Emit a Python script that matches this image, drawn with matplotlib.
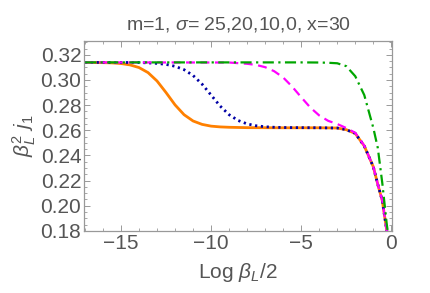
import matplotlib
matplotlib.use('Agg')
import matplotlib.pyplot as plt
from matplotlib.ticker import MultipleLocator

plt.rcParams['font.family'] = ['Liberation Sans', 'DejaVu Sans']
plt.rcParams['mathtext.fontset'] = 'custom'
plt.rcParams['mathtext.rm'] = 'Liberation Sans'
plt.rcParams['mathtext.it'] = 'Liberation Sans:italic'

# ---------------- data ----------------
# sigma = 25 (orange, solid)
x_orange = [-17, -16, -15.5, -15, -14.5, -14, -13.5, -13, -12.5, -12, -11.5, -11, -10.5, -10,
            -9.5, -9, -8, -6, -4, -3, -2.5, -2, -1.5, -1, -0.75, -0.5, -0.25, 0]
y_orange = [0.3140, 0.3138, 0.3136, 0.3131, 0.3120, 0.3099, 0.3059, 0.2992, 0.2900, 0.2802,
            0.2724, 0.2674, 0.2647, 0.2633, 0.2627, 0.2624, 0.2621, 0.2620, 0.2620, 0.2618,
            0.2605, 0.2575, 0.2475, 0.2310, 0.2170, 0.2040, 0.1800, 0.1650]

# sigma = 20 (blue, dotted)
x_blue = [-17, -14, -13.5, -13, -12.5, -12, -11.5, -11, -10.5, -10, -9.5, -9, -8.5, -8,
          -7.5, -7, -6.5, -6, -4, -3, -2.5, -2, -1.5, -1, -0.75, -0.5, -0.25, 0]
y_blue = [0.3140, 0.3139, 0.3136, 0.3132, 0.3124, 0.3109, 0.3082, 0.3036, 0.2967, 0.2880,
          0.2793, 0.2724, 0.2678, 0.2651, 0.2636, 0.2628, 0.2624, 0.2622, 0.2620, 0.2618,
          0.2605, 0.2575, 0.2475, 0.2310, 0.2170, 0.2040, 0.1800, 0.1650]

# sigma = 10 (magenta, dashed)
x_magenta = [-17, -9, -8, -7.5, -7, -6.5, -6, -5.5, -5, -4.5, -4, -3.5, -3, -2.5, -2, -1.5,
             -1, -0.75, -0.5, -0.25, 0]
y_magenta = [0.3140, 0.3139, 0.3129, 0.3120, 0.3102, 0.3070, 0.3020, 0.2947, 0.2863, 0.2782,
             0.2718, 0.2675, 0.2650, 0.2618, 0.2580, 0.2478, 0.2310, 0.2170, 0.2040, 0.1800,
             0.1650]

# sigma = 0 (green, dash-dot)
x_green = [-17, -5, -4, -3.5, -3, -2.5, -2, -1.5, -1, -0.75, -0.5, -0.25, 0]
y_green = [0.3140, 0.3140, 0.3139, 0.3137, 0.3133, 0.3110, 0.3030, 0.2880, 0.2620, 0.2460,
           0.2180, 0.1850, 0.1600]

# ---------------- plot ----------------
fig = plt.figure(figsize=(4.31, 2.93), dpi=100)
ax = fig.add_axes([0.195, 0.212, 0.715, 0.648])

ax.plot(x_orange, y_orange, color=(1.0, 0.5, 0.0), lw=2.0, solid_capstyle='butt')
ax.plot(x_blue, y_blue, color=(0.0, 0.0, 0.65), lw=2.0, linestyle=(0, (0.8, 1.3)))
ax.plot(x_magenta, y_magenta, color=(1.0, 0.0, 1.0), lw=1.6, linestyle=(0, (4, 2.5)))
ax.plot(x_green, y_green, color=(0.0, 0.65, 0.0), lw=1.6, linestyle=(0, (5, 2, 1, 2)))

ax.set_xlim(-17.05, 0.05)
ax.set_ylim(0.18, 0.331)

ax.xaxis.set_major_locator(MultipleLocator(5))
ax.xaxis.set_minor_locator(MultipleLocator(1))
ax.yaxis.set_major_locator(MultipleLocator(0.02))
ax.yaxis.set_minor_locator(MultipleLocator(0.005))
ax.yaxis.set_major_formatter(plt.FormatStrFormatter('%.2f'))

grey = '#999999'
for s in ax.spines.values():
    s.set_color(grey)
    s.set_linewidth(0.9)
ax.tick_params(which='both', direction='in', top=True, right=True, color=grey,
               labelcolor='#555555', labelsize=15, pad=2)
ax.tick_params(which='major', length=4, width=0.7)
ax.tick_params(which='minor', length=2, width=0.6)

ax.set_title(r'm=1, $\sigma$= 25,20,10,0, x=30', fontsize=14, color='#555555', pad=8)
ax.set_xlabel(r'Log $\beta_L$/2', fontsize=15, color='#555555', labelpad=6)
ax.set_ylabel(r'$\beta_L^2\ j_1$', fontsize=15, color='#555555', labelpad=2)

fig.savefig('out.png', dpi=100)
